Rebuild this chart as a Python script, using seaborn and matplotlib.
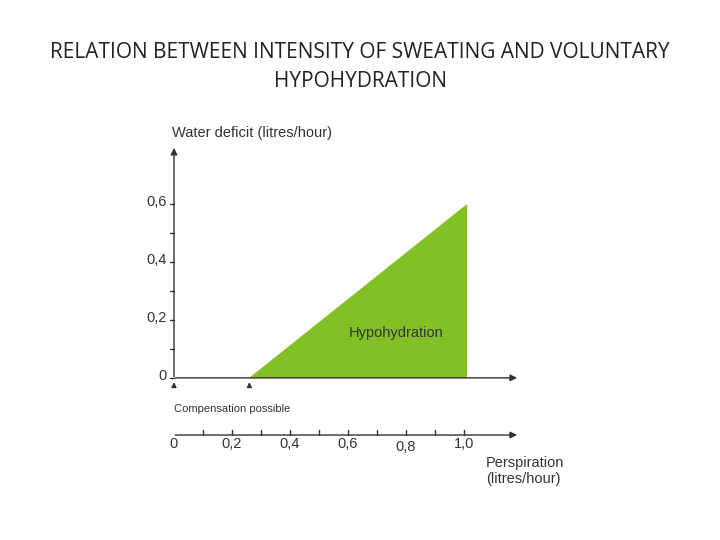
import matplotlib.pyplot as plt
import seaborn as sns

# data (litres/hour)
y_ticks = [0.0, 0.2, 0.4, 0.6]
y_labels = ["0", "0,2", "0,4", "0,6"]
x_ticks = [0.0, 0.2, 0.4, 0.6, 0.8, 1.0]
x_labels = ["0", "0,2", "0,4", "0,6", "0,8", "1,0"]
area_x = [0.26, 1.01, 1.01]
area_y = [0.0, 0.0, 0.6]

sns.set_theme(style="white")
plt.rcParams["font.family"] = ["Liberation Sans", "DejaVu Sans"]

fig = plt.figure(figsize=(7.2, 5.4), dpi=100)
ax = fig.add_axes([0, 0, 1, 1])
ax.set_xlim(-0.6, 1.883)
ax.set_ylim(-0.559, 1.303)
ax.axis("off")

fig.text(0.5, 0.876, "RELATION BETWEEN INTENSITY OF SWEATING AND VOLUNTARY\nHYPOHYDRATION",
         ha="center", va="center", fontsize=15, color="#222222",
         family=["Open Sans", "DejaVu Sans"], linespacing=1.45)

green = "#82c126"
ax.fill(area_x, area_y, color=green, lw=0)
ax.text(0.766, 0.155, "Hypohydration", fontsize=10.5, color="#333333", ha="center", va="center")

arrow = dict(arrowstyle="-|>", color="#333333", lw=1, mutation_scale=10)
ax.annotate("", xy=(0, 0.803), xytext=(0, -0.005), arrowprops=arrow)
ax.annotate("", xy=(1.193, 0), xytext=(-0.005, 0), arrowprops=arrow)
ax.annotate("", xy=(1.193, -0.197), xytext=(-0.005, -0.197), arrowprops=arrow)
small = dict(arrowstyle="-|>", color="#333333", lw=1, mutation_scale=7)
ax.annotate("", xy=(0, -0.005), xytext=(0, -0.04), arrowprops=small)
ax.annotate("", xy=(0.26, -0.005), xytext=(0.26, -0.04), arrowprops=small)

# y ticks
for i in range(7):
    v = i * 0.1
    ax.plot([-0.015, 0], [v, v], color="#333333", lw=1)
for v, lab in zip(y_ticks, y_labels):
    ax.text(-0.025, v + 0.005, lab, ha="right", va="center", fontsize=10.5, color="#333333")

# lower x axis ticks
for i in range(1, 11):
    v = i * 0.1
    ax.plot([v, v], [-0.197, -0.18], color="#333333", lw=1)
for v, lab in zip(x_ticks, x_labels):
    dy = -0.04 if v == 0.8 else -0.032
    ax.text(v, -0.197 + dy, lab, ha="center", va="center", fontsize=10.5, color="#333333")

ax.text(-0.007, 0.845, "Water deficit (litres/hour)", fontsize=10.5, color="#333333", va="center")
ax.text(0.0, -0.107, "Compensation possible", fontsize=8, color="#333333", va="center")
ax.text(1.076, -0.32, "Perspiration\n(litres/hour)", fontsize=10.5, color="#333333", va="center")

fig.savefig("out.png", dpi=100)
